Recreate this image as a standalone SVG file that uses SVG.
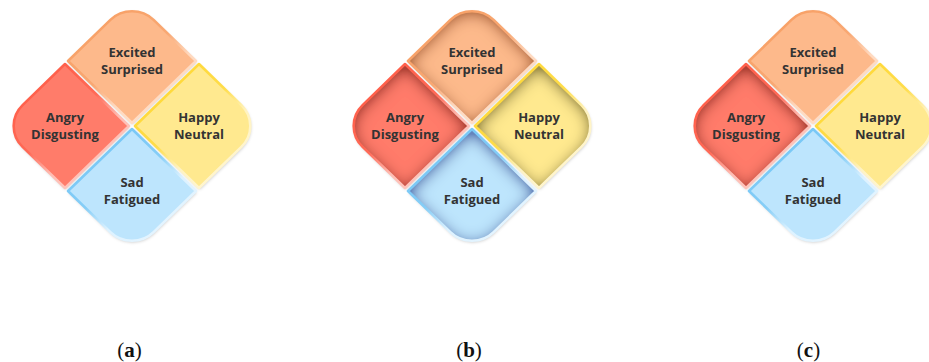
<svg xmlns="http://www.w3.org/2000/svg" xmlns:xlink="http://www.w3.org/1999/xlink" width="929" height="362" viewBox="0 0 929 362">
  <style>
    .lbl { font-family: "Open Sans", "Noto Sans", "Liberation Sans", sans-serif; font-weight: 700; font-size: 13px; fill: #333333; text-anchor: middle; }
    .cap { font-family: "Liberation Serif", "DejaVu Serif", serif; font-size: 21px; fill: #111; text-anchor: middle; }
    .cap tspan.b { font-weight: bold; }
    .rim { fill: none; stroke-width: 2.6; stroke-linejoin: round; }
  </style>
  <defs>
    <path id="sT" d="M -21.6,-106.1 C -9.7,-117.6 9.7,-117.6 21.6,-106.1 L 64,-65 L 0,-3 L -64,-65 Z"/>
    <path id="sL" d="M -109.4,-20.9 L -67,-62 L -3,0 L -67,62 L -109.4,20.9 C -121.3,9.4 -121.3,-9.4 -109.4,-20.9 Z"/>
    <path id="sR" d="M 109.4,-20.9 C 121.3,-9.4 121.3,9.4 109.4,20.9 L 67,62 L 3,0 L 67,-62 Z"/>
    <path id="sB" d="M 21.6,106.1 C 9.7,117.6 -9.7,117.6 -21.6,106.1 L -64,65 L 0,3 L 64,65 Z"/>

    <linearGradient id="rimO" x1="0.1" y1="0" x2="0.9" y2="1">
      <stop offset="0" stop-color="#F79E62"/><stop offset="0.45" stop-color="#F9A873"/><stop offset="0.65" stop-color="#FFD9BF"/><stop offset="1" stop-color="#FFE3D0"/>
    </linearGradient>
    <linearGradient id="rimR" x1="0.1" y1="0" x2="0.9" y2="1">
      <stop offset="0" stop-color="#FF5A44"/><stop offset="0.45" stop-color="#FF6A57"/><stop offset="0.65" stop-color="#FFBDB3"/><stop offset="1" stop-color="#FFCDC6"/>
    </linearGradient>
    <linearGradient id="rimY" x1="0.1" y1="0" x2="0.9" y2="1">
      <stop offset="0" stop-color="#FFD62E"/><stop offset="0.45" stop-color="#FFDD4A"/><stop offset="0.65" stop-color="#FFF3C2"/><stop offset="1" stop-color="#FFF7D8"/>
    </linearGradient>
    <linearGradient id="rimB" x1="0.1" y1="0" x2="0.9" y2="1">
      <stop offset="0" stop-color="#6EC3F5"/><stop offset="0.45" stop-color="#86CEF7"/><stop offset="0.65" stop-color="#DDF2FF"/><stop offset="1" stop-color="#E8F6FF"/>
    </linearGradient>

    <filter id="ds" x="-15%" y="-15%" width="130%" height="130%">
      <feDropShadow dx="0.6" dy="1.5" stdDeviation="1.4" flood-color="#000" flood-opacity="0.22"/>
    </filter>
    <filter id="vigO" x="-20%" y="-20%" width="140%" height="140%">
      <feComponentTransfer in="SourceAlpha" result="inv"><feFuncA type="table" tableValues="1 0"/></feComponentTransfer>
      <feGaussianBlur in="inv" stdDeviation="8" result="blur"/>
      <feOffset in="blur" dx="0" dy="3" result="off0"/>
      <feComponentTransfer in="off0" result="off"><feFuncA type="linear" slope="1.5" intercept="0"/></feComponentTransfer>
      <feFlood flood-color="#A3531D" flood-opacity="0.75" result="fl"/>
      <feComposite in="fl" in2="off" operator="in" result="sh"/>
      <feComposite in="sh" in2="SourceAlpha" operator="in" result="ish"/>
      <feDropShadow in="SourceAlpha" dx="0.6" dy="1.5" stdDeviation="1.4" flood-color="#000" flood-opacity="0.22" result="drop"/>
      <feMerge><feMergeNode in="drop"/><feMergeNode in="SourceGraphic"/><feMergeNode in="ish"/></feMerge>
    </filter>
    <filter id="vigR" x="-20%" y="-20%" width="140%" height="140%">
      <feComponentTransfer in="SourceAlpha" result="inv"><feFuncA type="table" tableValues="1 0"/></feComponentTransfer>
      <feGaussianBlur in="inv" stdDeviation="8" result="blur"/>
      <feOffset in="blur" dx="0" dy="3" result="off0"/>
      <feComponentTransfer in="off0" result="off"><feFuncA type="linear" slope="1.5" intercept="0"/></feComponentTransfer>
      <feFlood flood-color="#850C00" flood-opacity="0.75" result="fl"/>
      <feComposite in="fl" in2="off" operator="in" result="sh"/>
      <feComposite in="sh" in2="SourceAlpha" operator="in" result="ish"/>
      <feDropShadow in="SourceAlpha" dx="0.6" dy="1.5" stdDeviation="1.4" flood-color="#000" flood-opacity="0.22" result="drop"/>
      <feMerge><feMergeNode in="drop"/><feMergeNode in="SourceGraphic"/><feMergeNode in="ish"/></feMerge>
    </filter>
    <filter id="vigY" x="-20%" y="-20%" width="140%" height="140%">
      <feComponentTransfer in="SourceAlpha" result="inv"><feFuncA type="table" tableValues="1 0"/></feComponentTransfer>
      <feGaussianBlur in="inv" stdDeviation="8" result="blur"/>
      <feOffset in="blur" dx="0" dy="3" result="off0"/>
      <feComponentTransfer in="off0" result="off"><feFuncA type="linear" slope="1.5" intercept="0"/></feComponentTransfer>
      <feFlood flood-color="#665A00" flood-opacity="0.75" result="fl"/>
      <feComposite in="fl" in2="off" operator="in" result="sh"/>
      <feComposite in="sh" in2="SourceAlpha" operator="in" result="ish"/>
      <feDropShadow in="SourceAlpha" dx="0.6" dy="1.5" stdDeviation="1.4" flood-color="#000" flood-opacity="0.22" result="drop"/>
      <feMerge><feMergeNode in="drop"/><feMergeNode in="SourceGraphic"/><feMergeNode in="ish"/></feMerge>
    </filter>
    <filter id="vigB" x="-20%" y="-20%" width="140%" height="140%">
      <feComponentTransfer in="SourceAlpha" result="inv"><feFuncA type="table" tableValues="1 0"/></feComponentTransfer>
      <feGaussianBlur in="inv" stdDeviation="8" result="blur"/>
      <feOffset in="blur" dx="0" dy="3" result="off0"/>
      <feComponentTransfer in="off0" result="off"><feFuncA type="linear" slope="1.5" intercept="0"/></feComponentTransfer>
      <feFlood flood-color="#003C9E" flood-opacity="0.75" result="fl"/>
      <feComposite in="fl" in2="off" operator="in" result="sh"/>
      <feComposite in="sh" in2="SourceAlpha" operator="in" result="ish"/>
      <feDropShadow in="SourceAlpha" dx="0.6" dy="1.5" stdDeviation="1.4" flood-color="#000" flood-opacity="0.22" result="drop"/>
      <feMerge><feMergeNode in="drop"/><feMergeNode in="SourceGraphic"/><feMergeNode in="ish"/></feMerge>
    </filter>
  </defs>

  <!-- Diagram (a) -->
  <g id="diagram-a" transform="translate(132,126)">
    <g id="a-excited">
      <use xlink:href="#sT" fill="#FDB98B" filter="url(#ds)"/>
      <use xlink:href="#sT" class="rim" stroke="url(#rimO)"/>
      <text class="lbl" x="0" y="-69.5">Excited</text>
      <text class="lbl" x="0" y="-52.5">Surprised</text>
    </g>
    <g id="a-angry">
      <use xlink:href="#sL" fill="#FF7C6B" filter="url(#ds)"/>
      <use xlink:href="#sL" class="rim" stroke="url(#rimR)"/>
      <text class="lbl" x="-67" y="-4.5">Angry</text>
      <text class="lbl" x="-67" y="12.5">Disgusting</text>
    </g>
    <g id="a-happy">
      <use xlink:href="#sR" fill="#FFE98F" filter="url(#ds)"/>
      <use xlink:href="#sR" class="rim" stroke="url(#rimY)"/>
      <text class="lbl" x="67" y="-4.5">Happy</text>
      <text class="lbl" x="67" y="12.5">Neutral</text>
    </g>
    <g id="a-sad">
      <use xlink:href="#sB" fill="#BDE5FD" filter="url(#ds)"/>
      <use xlink:href="#sB" class="rim" stroke="url(#rimB)"/>
      <text class="lbl" x="0" y="60.5">Sad</text>
      <text class="lbl" x="0" y="77.5">Fatigued</text>
    </g>
  </g>

  <!-- Diagram (b) -->
  <g id="diagram-b" transform="translate(472,126)">
    <g id="b-excited">
      <use xlink:href="#sT" fill="#FDB98B" filter="url(#vigO)"/>
      <use xlink:href="#sT" class="rim" stroke="url(#rimO)"/>
      <text class="lbl" x="0" y="-69.5">Excited</text>
      <text class="lbl" x="0" y="-52.5">Surprised</text>
    </g>
    <g id="b-angry">
      <use xlink:href="#sL" fill="#FF7C6B" filter="url(#vigR)"/>
      <use xlink:href="#sL" class="rim" stroke="url(#rimR)"/>
      <text class="lbl" x="-67" y="-4.5">Angry</text>
      <text class="lbl" x="-67" y="12.5">Disgusting</text>
    </g>
    <g id="b-happy">
      <use xlink:href="#sR" fill="#FFE98F" filter="url(#vigY)"/>
      <use xlink:href="#sR" class="rim" stroke="url(#rimY)"/>
      <text class="lbl" x="67" y="-4.5">Happy</text>
      <text class="lbl" x="67" y="12.5">Neutral</text>
    </g>
    <g id="b-sad">
      <use xlink:href="#sB" fill="#BDE5FD" filter="url(#vigB)"/>
      <use xlink:href="#sB" class="rim" stroke="url(#rimB)"/>
      <text class="lbl" x="0" y="60.5">Sad</text>
      <text class="lbl" x="0" y="77.5">Fatigued</text>
    </g>
  </g>

  <!-- Diagram (c) -->
  <g id="diagram-c" transform="translate(813,126)">
    <g id="c-excited">
      <use xlink:href="#sT" fill="#FDB98B" filter="url(#ds)"/>
      <use xlink:href="#sT" class="rim" stroke="url(#rimO)"/>
      <text class="lbl" x="0" y="-69.5">Excited</text>
      <text class="lbl" x="0" y="-52.5">Surprised</text>
    </g>
    <g id="c-angry">
      <use xlink:href="#sL" fill="#FF7C6B" filter="url(#vigR)"/>
      <use xlink:href="#sL" class="rim" stroke="url(#rimR)"/>
      <text class="lbl" x="-67" y="-4.5">Angry</text>
      <text class="lbl" x="-67" y="12.5">Disgusting</text>
    </g>
    <g id="c-happy">
      <use xlink:href="#sR" fill="#FFE98F" filter="url(#ds)"/>
      <use xlink:href="#sR" class="rim" stroke="url(#rimY)"/>
      <text class="lbl" x="67" y="-4.5">Happy</text>
      <text class="lbl" x="67" y="12.5">Neutral</text>
    </g>
    <g id="c-sad">
      <use xlink:href="#sB" fill="#BDE5FD" filter="url(#ds)"/>
      <use xlink:href="#sB" class="rim" stroke="url(#rimB)"/>
      <text class="lbl" x="0" y="60.5">Sad</text>
      <text class="lbl" x="0" y="77.5">Fatigued</text>
    </g>
  </g>

  <g id="connectors"/>

  <g id="captions">
    <text class="cap" x="129.5" y="357">(<tspan class="b">a</tspan>)</text>
    <text class="cap" x="469" y="357">(<tspan class="b">b</tspan>)</text>
    <text class="cap" x="808.5" y="357">(<tspan class="b">c</tspan>)</text>
  </g>
</svg>
